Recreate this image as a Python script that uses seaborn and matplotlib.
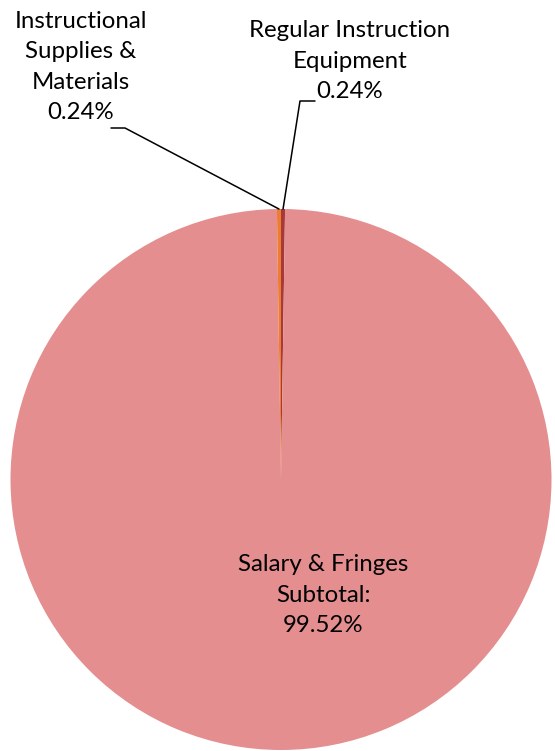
import numpy as np
import matplotlib
matplotlib.use("Agg")
import matplotlib.pyplot as plt
from matplotlib.lines import Line2D
import seaborn as sns

# slice data, clockwise from 12 o'clock
categories = ["Regular Instruction\nEquipment", "Salary & Fringes\nSubtotal:", "Instructional\nSupplies &\nMaterials"]
shares = [0.24, 99.52, 0.24]
pct_labels = ["0.24%", "99.52%", "0.24%"]
colors = ["#A6393B", "#E48E8F", "#ED7D31"]

sns.set_theme(style="white")
plt.rcParams["font.family"] = ["Lato", "DejaVu Sans"]

W, H = 555, 751
fig = plt.figure(figsize=(W / 100, H / 100), dpi=100)


def fpos(x, y):
    # pixel (top-left origin) -> figure fraction
    return x / W, 1 - y / H


ax = fig.add_axes([10 / W, 1 / H, 542 / W, 541 / H])
wedges, _ = ax.pie(shares, colors=colors, startangle=90, counterclock=False,
                   radius=1.0, wedgeprops=dict(linewidth=0))
ax.set_xlim(-1, 1)
ax.set_ylim(-1, 1)
ax.set_aspect("equal")
ax.axis("off")

fs = 17.3
ls = 1.55
# Instructional Supplies & Materials
x, y = fpos(81, 67)
fig.text(x, y, categories[2] + "\n" + pct_labels[2], ha="center", va="center",
         fontsize=fs, linespacing=ls, color="black")
# Regular Instruction Equipment
x, y = fpos(350, 61)
fig.text(x, y, categories[0] + "\n" + pct_labels[0], ha="center", va="center",
         fontsize=fs, linespacing=ls, color="black")
# Salary & Fringes
x, y = fpos(323, 595)
fig.text(x, y, categories[1] + "\n" + pct_labels[1], ha="center", va="center",
         fontsize=fs, linespacing=ls, color="black")


def edge_point(w):
    ang = np.deg2rad((w.theta1 + w.theta2) / 2)
    p = ax.transData.transform((np.cos(ang), np.sin(ang)))
    return fig.transFigure.inverted().transform(p)


# leader lines
ex, ey = edge_point(wedges[2])
p1 = fpos(111, 128)
p2 = fpos(125, 128)
fig.add_artist(Line2D([p1[0], p2[0], ex], [p1[1], p2[1], ey], color="black", lw=1.1))

ex, ey = edge_point(wedges[0])
p1 = fpos(315, 101)
p2 = fpos(300, 101)
fig.add_artist(Line2D([p1[0], p2[0], ex], [p1[1], p2[1], ey], color="black", lw=1.1))

fig.savefig("out.png", dpi=100, facecolor="white")
